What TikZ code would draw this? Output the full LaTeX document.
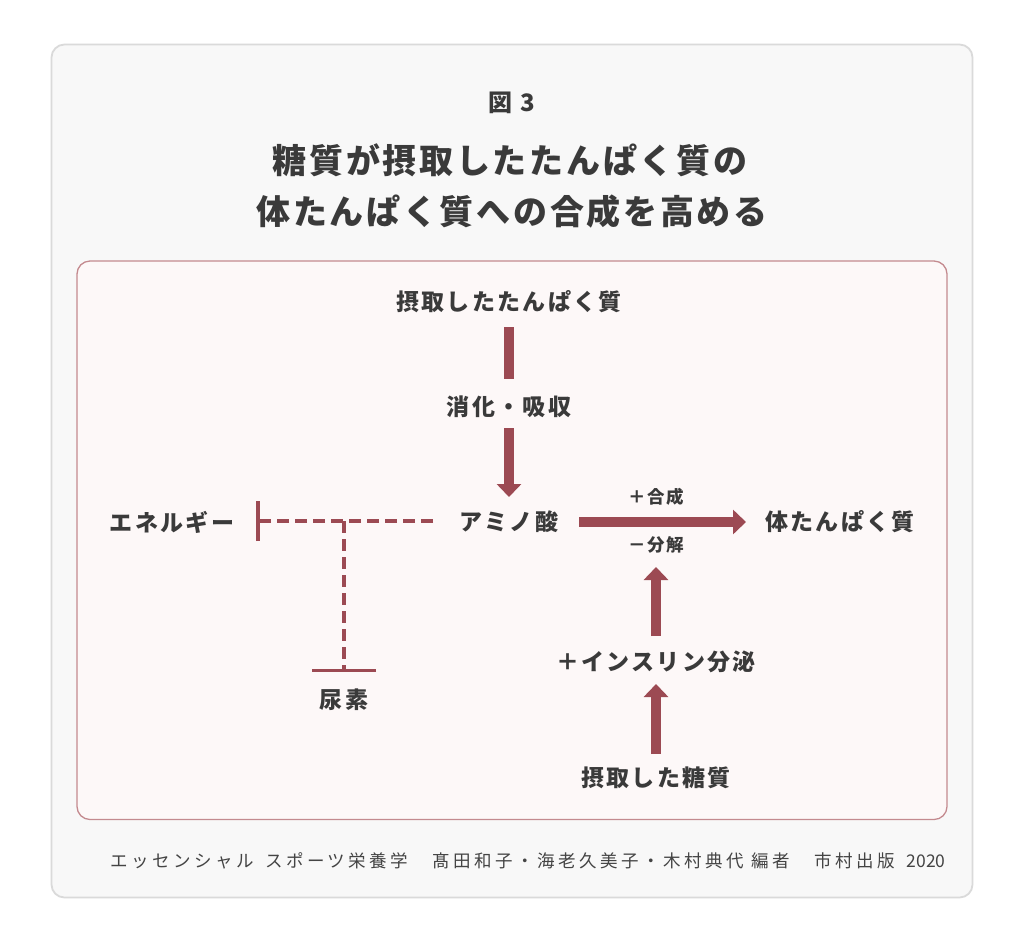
\documentclass[tikz,border=0pt]{standalone}
\usepackage{fontspec}
\setmainfont{Noto Sans CJK JP}
\newfontfamily\nodefont{Noto Sans CJK JP}[LetterSpace=10]
\newfontfamily\titlefont{Noto Sans CJK JP}[LetterSpace=8]
\newfontfamily\footfont{Noto Sans CJK JP}[LetterSpace=20]
\usetikzlibrary{arrows.meta}
\definecolor{txt}{HTML}{3A3A3A}
\definecolor{arr}{HTML}{9C4A53}
\definecolor{outerfill}{HTML}{F8F8F8}
\definecolor{outerline}{HTML}{DADADA}
\definecolor{innerfill}{HTML}{FDF8F8}
\definecolor{innerline}{HTML}{C48A8F}
\definecolor{foot}{HTML}{444444}
\begin{document}
\begin{tikzpicture}[x=1pt,y=-1pt,
  lbl/.style={inner sep=0pt,text=txt,font=\nodefont\bfseries\fontsize{23pt}{28pt}\selectfont},
  small/.style={inner sep=0pt,text=txt,font=\nodefont\bfseries\fontsize{17.5pt}{20pt}\selectfont},
  ttl/.style={inner sep=0pt,text=txt,font=\titlefont\bfseries\fontsize{34pt}{40pt}\selectfont},
  barline/.style={draw=arr,line width=10pt},
  fatarrow/.style={draw=arr,line width=10pt,-{Triangle[width=24pt,length=13pt]}},
  inhib/.style={draw=arr,line width=3.5pt,dash pattern=on 12pt off 6pt},
]
\useasboundingbox (0,0) rectangle (1024,946);
\fill[white] (0,0) rectangle (1024,946);
\draw[fill=outerfill,draw=outerline,line width=1.8pt,rounded corners=13pt] (51.5,44.5) rectangle (972.5,897.5);
\draw[fill=innerfill,draw=innerline,line width=1.3pt,rounded corners=13pt] (77,261) rectangle (947,819.5);

\node[inner sep=0pt,text=txt,font=\titlefont\bfseries\fontsize{24pt}{28pt}\selectfont] (fig) at (512,103) {図 3};
\node[ttl] (t1) at (510,160) {糖質が摂取したたんぱく質の};
\node[ttl] (t2) at (512,212) {体たんぱく質への合成を高める};

\node[lbl] (top) at (509,302) {摂取したたんぱく質};
\node[lbl] (dig) at (509,407) {消化・吸収};
\node[lbl] (amino) at (509,522) {アミノ酸};
\node[lbl] (energy) at (172,522) {エネルギー};
\node[lbl] (urea) at (344,700) {尿素};
\node[lbl] (body) at (840,522) {体たんぱく質};
\node[small] (syn) at (656,497) {＋合成};
\node[small] (dec) at (656,545) {－分解};
\node[lbl] (ins) at (656,662) {＋インスリン分泌};
\node[lbl] (sugar) at (656,778) {摂取した糖質};
\coordinate (junc) at (344,521);

\draw[barline] ([yshift=-25pt]top.center) -- ([yshift=28pt]dig.center);
\draw[fatarrow] ([yshift=-21pt]dig.center) -- ([yshift=25pt]amino.center);
\draw[fatarrow] ([xshift=70pt]amino.center) -- ([xshift=-94pt]body.center);
\draw[fatarrow] ([yshift=26pt]ins.center) -- ([yshift=-22pt]dec.center);
\draw[fatarrow] ([yshift=24pt]sugar.center) -- ([yshift=-22pt]ins.center);

\draw[inhib,-{Bar[width=40pt,line width=3.5pt]}] ([xshift=-76pt,yshift=1pt]amino.center) -- ([xshift=84pt,yshift=1pt]energy.center);
\draw[inhib,-{Bar[width=64pt,line width=3.5pt]}] (junc) -- ([yshift=28pt]urea.center);

\node[inner sep=0pt,text=foot,font=\footfont\fontsize{17.5pt}{20pt}\selectfont,anchor=west] (src) at (110,861) {エッセンシャル\hspace{4pt} スポーツ栄養学　髙田和子・海老久美子・木村典代 編者　市村出版\hspace{4pt} {\rmfamily 2020}};
\end{tikzpicture}
\end{document}
